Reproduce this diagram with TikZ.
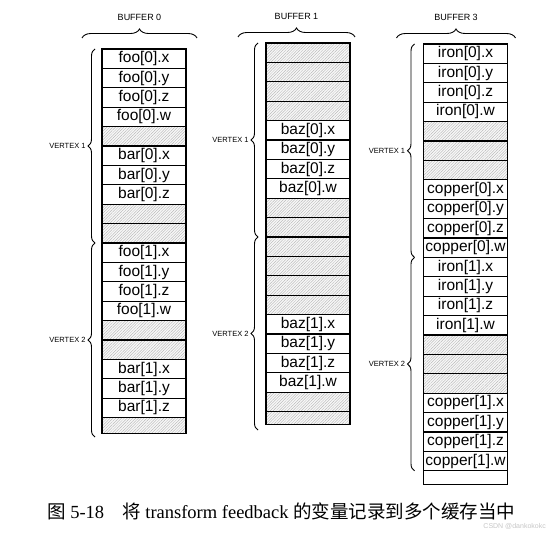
\documentclass[tikz,border=0pt]{standalone}
\usepackage{fontspec}
\setmainfont{Liberation Serif}
\newfontfamily\cellfont{Liberation Sans}
\newfontfamily\cjk{Noto Sans CJK SC}
\usetikzlibrary{positioning, patterns.meta, decorations.pathreplacing}

\begin{document}
\begin{tikzpicture}[x=1pt, y=-1pt,
    cell/.style={rectangle, draw, line width=1.1pt, minimum width=84pt, minimum height=19.4pt, inner sep=0pt, outer sep=0pt, font=\cellfont\fontsize{15.5}{15.5}\selectfont},
    padcell/.style={cell, preaction={fill=gray!6}, pattern={Lines[angle=45, distance=2pt, line width=0.3pt]}, pattern color=gray!65},
    vbrace/.style={decorate, decoration={brace, amplitude=7pt}, line width=0.9pt},
    tbrace/.style={decorate, decoration={brace, amplitude=9pt}, line width=0.9pt},
    vlabel/.style={left=9pt, inner sep=0pt, font=\cellfont\fontsize{7.5}{7.5}\selectfont},
    blabel/.style={above=17pt, inner sep=0pt, font=\cellfont\fontsize{9}{9}\selectfont}
]
\useasboundingbox (0,0) rectangle (549,534);

% buffer 0
\node[cell, anchor=north] (foo0x) at (144,49) {foo[0].x};
\node[cell, below=0pt of foo0x] (foo0y) {foo[0].y};
\node[cell, below=0pt of foo0y] (foo0z) {foo[0].z};
\node[cell, below=0pt of foo0z] (foo0w) {foo[0].w};
\node[padcell, below=0pt of foo0w] (b0p1) {};
\node[cell, below=0pt of b0p1] (bar0x) {bar[0].x};
\node[cell, below=0pt of bar0x] (bar0y) {bar[0].y};
\node[cell, below=0pt of bar0y] (bar0z) {bar[0].z};
\node[padcell, below=0pt of bar0z] (b0p2) {};
\node[padcell, below=0pt of b0p2] (b0p3) {};
\node[cell, below=0pt of b0p3] (foo1x) {foo[1].x};
\node[cell, below=0pt of foo1x] (foo1y) {foo[1].y};
\node[cell, below=0pt of foo1y] (foo1z) {foo[1].z};
\node[cell, below=0pt of foo1z] (foo1w) {foo[1].w};
\node[padcell, below=0pt of foo1w] (b0p4) {};
\node[padcell, below=0pt of b0p4] (b0p5) {};
\node[cell, below=0pt of b0p5] (bar1x) {bar[1].x};
\node[cell, below=0pt of bar1x] (bar1y) {bar[1].y};
\node[cell, below=0pt of bar1y] (bar1z) {bar[1].z};
\node[padcell, minimum height=15.5pt, below=0pt of bar1z] (b0p6) {};

% buffer 1
\node[padcell, anchor=north] (b1p1) at (308,43) {};
\node[padcell, below=0pt of b1p1] (b1p2) {};
\node[padcell, below=0pt of b1p2] (b1p3) {};
\node[padcell, below=0pt of b1p3] (b1p4) {};
\node[cell, below=0pt of b1p4] (baz0x) {baz[0].x};
\node[cell, below=0pt of baz0x] (baz0y) {baz[0].y};
\node[cell, below=0pt of baz0y] (baz0z) {baz[0].z};
\node[cell, below=0pt of baz0z] (baz0w) {baz[0].w};
\node[padcell, below=0pt of baz0w] (b1p5) {};
\node[padcell, below=0pt of b1p5] (b1p6) {};
\node[padcell, below=0pt of b1p6] (b1p7) {};
\node[padcell, below=0pt of b1p7] (b1p8) {};
\node[padcell, below=0pt of b1p8] (b1p9) {};
\node[padcell, below=0pt of b1p9] (b1p10) {};
\node[cell, below=0pt of b1p10] (baz1x) {baz[1].x};
\node[cell, below=0pt of baz1x] (baz1y) {baz[1].y};
\node[cell, below=0pt of baz1y] (baz1z) {baz[1].z};
\node[cell, below=0pt of baz1z] (baz1w) {baz[1].w};
\node[padcell, below=0pt of baz1w] (b1p11) {};
\node[padcell, minimum height=12.5pt, below=0pt of b1p11] (b1p12) {};

% buffer 3
\node[cell, anchor=north] (iron0x) at (465.5,44) {iron[0].x};
\node[cell, below=0pt of iron0x] (iron0y) {iron[0].y};
\node[cell, below=0pt of iron0y] (iron0z) {iron[0].z};
\node[cell, below=0pt of iron0z] (iron0w) {iron[0].w};
\node[padcell, below=0pt of iron0w] (b3p1) {};
\node[padcell, below=0pt of b3p1] (b3p2) {};
\node[padcell, below=0pt of b3p2] (b3p3) {};
\node[cell, below=0pt of b3p3] (copper0x) {copper[0].x};
\node[cell, below=0pt of copper0x] (copper0y) {copper[0].y};
\node[cell, below=0pt of copper0y] (copper0z) {copper[0].z};
\node[cell, below=0pt of copper0z] (copper0w) {copper[0].w};
\node[cell, below=0pt of copper0w] (iron1x) {iron[1].x};
\node[cell, below=0pt of iron1x] (iron1y) {iron[1].y};
\node[cell, below=0pt of iron1y] (iron1z) {iron[1].z};
\node[cell, below=0pt of iron1z] (iron1w) {iron[1].w};
\node[padcell, below=0pt of iron1w] (b3p4) {};
\node[padcell, below=0pt of b3p4] (b3p5) {};
\node[padcell, below=0pt of b3p5] (b3p6) {};
\node[cell, below=0pt of b3p6] (copper1x) {copper[1].x};
\node[cell, below=0pt of copper1x] (copper1y) {copper[1].y};
\node[cell, below=0pt of copper1y] (copper1z) {copper[1].z};
\node[cell, below=0pt of copper1z] (copper1w) {copper[1].w};
\node[cell, minimum height=14pt, below=0pt of copper1w] (b3end) {};

% buffer braces
\draw[tbrace] ([xshift=-20pt, yshift=11pt]foo0x.north west) -- ([xshift=11pt, yshift=11pt]foo0x.north east) node[midway, blabel] (buf0) {BUFFER 0};
\draw[tbrace] ([xshift=-28pt, yshift=6pt]b1p1.north west) -- ([xshift=5pt, yshift=6pt]b1p1.north east) node[midway, blabel] (buf1) {BUFFER 1};
\draw[tbrace] ([xshift=-27pt, yshift=6pt]iron0x.north west) -- ([xshift=8pt, yshift=6pt]iron0x.north east) node[midway, blabel] (buf3) {BUFFER 3};

% vertex braces
\draw[vbrace] ([xshift=-7pt]foo1x.north west) -- ([xshift=-7pt]foo0x.north west) node[midway, vlabel] (v01) {VERTEX 1};
\draw[vbrace] ([xshift=-7pt, yshift=-4pt]b0p6.south west) -- ([xshift=-7pt]foo1x.north west) node[midway, vlabel] (v02) {VERTEX 2};
\draw[vbrace] ([xshift=-8pt]b1p7.north west) -- ([xshift=-8pt]b1p1.north west) node[midway, vlabel] (v11) {VERTEX 1};
\draw[vbrace] ([xshift=-8pt, yshift=-6pt]b1p12.south west) -- ([xshift=-8pt]b1p7.north west) node[midway, vlabel] (v12) {VERTEX 2};
\draw[vbrace] ([xshift=-9pt]iron1x.north west) -- ([xshift=-9pt]iron0x.north west) node[midway, vlabel] (v31) {VERTEX 1};
\draw[vbrace] ([xshift=-9pt]copper1w.south west) -- ([xshift=-9pt]iron1x.north west) node[midway, vlabel] (v32) {VERTEX 2};

% caption
\node[anchor=west, inner sep=0pt, font=\fontsize{18.5}{20}\selectfont] (caption) at (47,511) {{\cjk 图} 5-18\hspace{18pt}{\cjk 将} transform feedback {\cjk 的变量记录到多个缓存当中}};
\node[anchor=east, inner sep=0pt, text=gray!45, font=\cellfont\fontsize{7}{7}\selectfont] (mark) at (546,526) {CSDN @dankokokc};

\end{tikzpicture}
\end{document}
